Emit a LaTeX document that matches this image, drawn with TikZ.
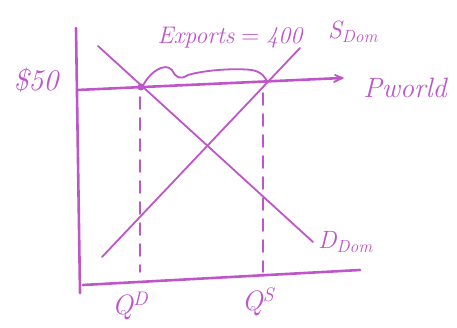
\documentclass[tikz,border=0pt]{standalone}
\usetikzlibrary{arrows.meta}
\definecolor{ink}{RGB}{190,85,200}
\begin{document}
\begin{tikzpicture}[x=1pt,y=-1pt,
  pen/.style={draw=ink,line width=2.6pt,line cap=round},
  thin pen/.style={draw=ink,line width=1.8pt,line cap=round},
  lbl/.style={text=ink,font=\fontsize{25}{26}\selectfont\itshape,inner sep=0pt}]
\useasboundingbox (0,0) rectangle (457,328);
% axes
\coordinate (ytop) at (76,28);
\coordinate (ybot) at (80,293);
\coordinate (xl) at (83,285);
\coordinate (xr) at (360,270);
\draw[pen] (ytop) -- (ybot);
\draw[pen] (xl) -- (xr);
% world price
\coordinate (pl) at (77,90);
\coordinate (pr) at (342,78);
\draw[pen] (pl) -- (pr);
\draw[thin pen] (335,75) -- (pr) -- (334,82);
% demand and supply
\coordinate (d1) at (98,46);
\coordinate (d2) at (313,242);
\coordinate (s1) at (102,257);
\coordinate (s2) at (300,48);
\draw[thin pen] (d1) -- (d2);
\draw[thin pen] (s1) -- (s2);
% dot
\node[circle,fill=ink,minimum size=7pt,inner sep=0pt] (dot) at (141,87) {};
% dashed
\coordinate (qd1) at (140,97);
\coordinate (qd2) at (140,272);
\coordinate (qs1) at (263,93);
\coordinate (qs2) at (263,272);
\draw[thin pen,dash pattern=on 12pt off 9pt] (qd1) -- (qd2);
\draw[thin pen,dash pattern=on 12pt off 9pt] (qs1) -- (qs2);
% exports brace
\draw[thin pen] (dot.north east) .. controls (150,72) and (165,62) .. (172,70)
  .. controls (176,78) and (180,80) .. (188,75)
  .. controls (205,70) and (235,68) .. (252,70)
  .. controls (262,72) and (266,78) .. (267,82);
% labels
\node[lbl,font=\fontsize{30}{30}\selectfont\itshape] (price) at (36,80) {\$50};
\node[lbl,font=\fontsize{28}{28}\selectfont\itshape] (pw) at (405,88) {Pworld};
\node[lbl,font=\fontsize{24}{24}\selectfont\itshape] (exp) at (230,38) {Exports${}={}$400};
\node[lbl,anchor=west] (sdom) at (328,32) {S\textsubscript{Dom}};
\node[lbl,anchor=west] (ddom) at (318,242) {D\textsubscript{Dom}};
\node[lbl,font=\fontsize{28}{28}\selectfont\itshape] (qdl) at (130,306) {Q\textsuperscript{D}};
\node[lbl,font=\fontsize{28}{28}\selectfont\itshape] (qsl) at (258,302) {Q\textsuperscript{S}};
\end{tikzpicture}
\end{document}
